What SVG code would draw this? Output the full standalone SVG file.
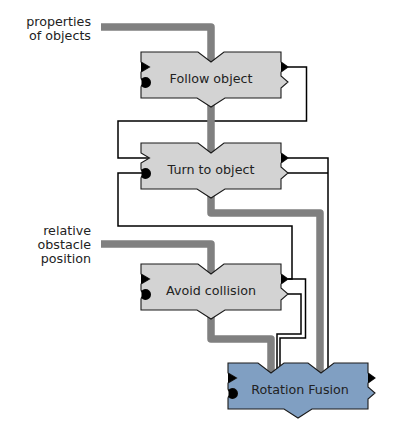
<svg xmlns="http://www.w3.org/2000/svg" xmlns:xlink="http://www.w3.org/1999/xlink" width="408" height="435" viewBox="0 0 408 435">
<style>
.flow{fill:none;stroke:#808080;stroke-width:7.5;stroke-linejoin:round}
.wire{fill:none;stroke:#000;stroke-width:1.5}
.box{stroke:#1a1a1a;stroke-width:1.1}
.gray{fill:#d3d3d3}
.blue{fill:#809fc2}
.port{fill:#000}
.lbl{font-family:"DejaVu Sans",sans-serif;font-size:12.7px;fill:#222;text-anchor:middle}
.side{font-family:"DejaVu Sans",sans-serif;font-size:12.7px;fill:#222;text-anchor:end}
</style>
<defs>
<path id="shape1" d="M0,0 H57 L70,10 L83,0 H140 V10 L147,15 L140,20 V24 L147,30 L140,36 V46 H84 L70,55 L56,46 H0 V35 L0.5,33.5 A5,5 0 1 0 0.5,27.5 L0,26 V20 L8.5,15 L0,10 Z"/>
<path id="shape2" d="M0,0 H30 L43,10 L56,0 H80 L93,10 L106,0 H140 V10 L147,15 L140,20 V24 L147,30 L140,36 V46 H84 L70,55 L56,46 H0 V35 L0.5,33.5 A5,5 0 1 0 0.5,27.5 L0,26 V20 L8.5,15 L0,10 Z"/>
<polygon id="inTri" points="0,10 8.5,15 0,20"/>
<path id="inSemi" d="M0.5,33.5 A5,5 0 1 0 0.5,27.5 Z"/>
<polygon id="outTri" points="140,10 147,15 140,20"/>
</defs>
<g id="connectors">
<path class="wire" d="M281,67 H306.5 V121 H118 V158 H149"/>
<path class="wire" d="M281,279 H292 V226 H118 V173 H146"/>
<path class="wire" d="M281,279 H305.5 V338 H280 V372"/>
<path class="wire" d="M281,294 H301 V334 H277 V372"/>
<path class="wire" d="M281,158 H328 V372"/>
<path class="wire" d="M281,173 H328"/>
<path class="flow" d="M101,27 H211 V66"/>
<path class="flow" d="M211,98 V155"/>
<path class="flow" d="M211,190 V213 H320 V375"/>
<path class="flow" d="M101,244 H211 V276"/>
<path class="flow" d="M211,300 V339 H271 V375"/>
</g>
<g id="follow" transform="translate(141,52)">
<use xlink:href="#shape1" class="box gray"/>
<use xlink:href="#inTri" class="port"/>
<use xlink:href="#inSemi" class="port"/>
<use xlink:href="#outTri" class="port"/>
<text class="lbl" x="70" y="31">Follow object</text>
</g>
<g id="turn" transform="translate(141,143)">
<use xlink:href="#shape1" class="box gray"/>
<use xlink:href="#inSemi" class="port"/>
<use xlink:href="#outTri" class="port"/>
<text class="lbl" x="70" y="31">Turn to object</text>
</g>
<g id="avoid" transform="translate(141,264)">
<use xlink:href="#shape1" class="box gray"/>
<use xlink:href="#inTri" class="port"/>
<use xlink:href="#inSemi" class="port"/>
<use xlink:href="#outTri" class="port"/>
<text class="lbl" x="70" y="31">Avoid collision</text>
</g>
<g id="fusion" transform="translate(228,363)">
<use xlink:href="#shape2" class="box blue"/>
<use xlink:href="#inTri" class="port"/>
<use xlink:href="#inSemi" class="port"/>
<use xlink:href="#outTri" class="port"/>
<text class="lbl" x="72" y="31">Rotation Fusion</text>
</g>
<g id="label-properties">
<text class="side" x="91" y="25.5">properties</text>
<text class="side" x="91" y="39.5">of objects</text>
</g>
<g id="label-obstacle">
<text class="side" x="91" y="235">relative</text>
<text class="side" x="91" y="249">obstacle</text>
<text class="side" x="91" y="263">position</text>
</g>
</svg>
